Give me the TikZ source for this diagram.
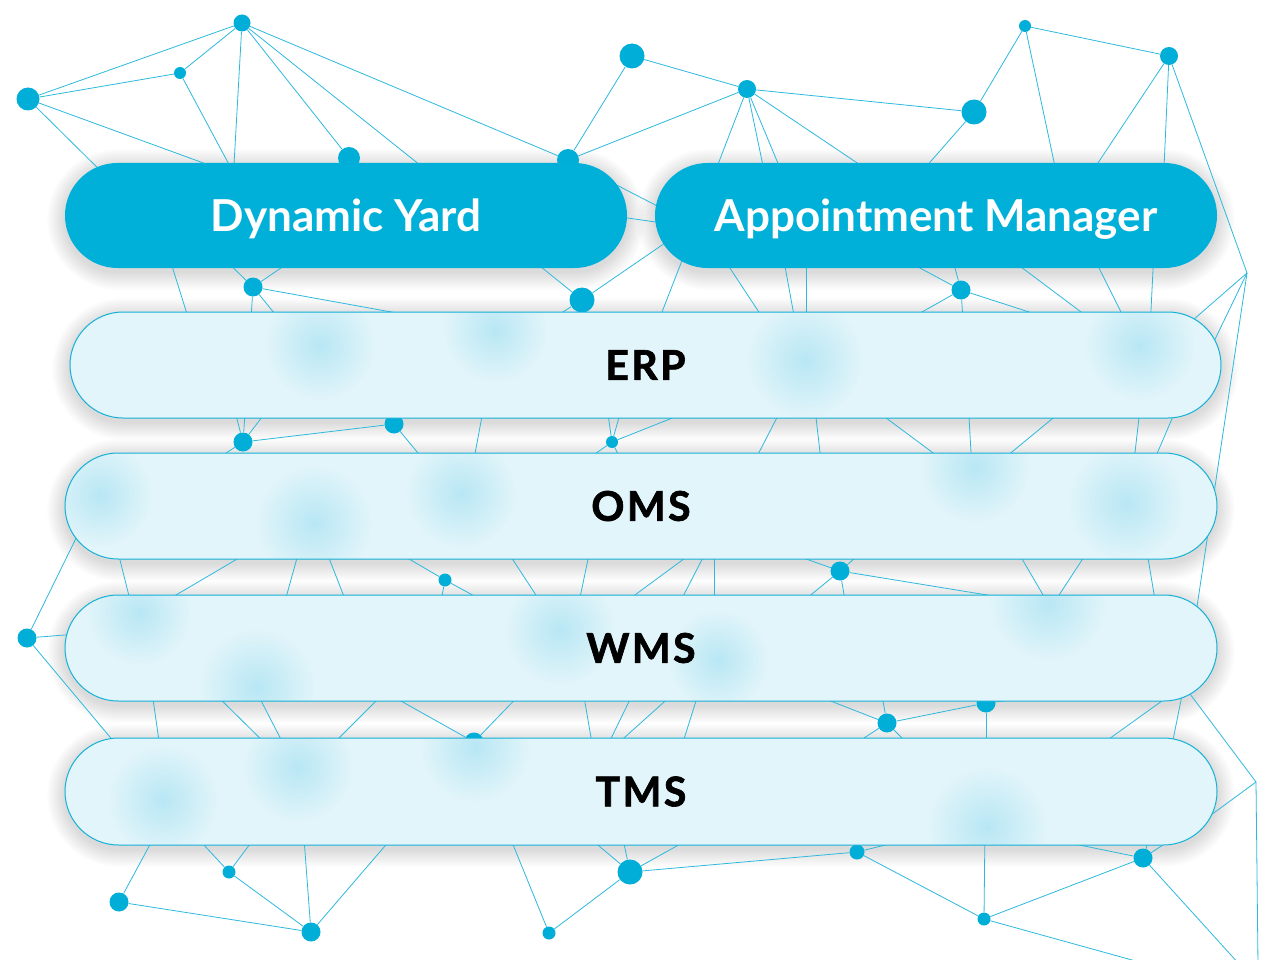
\documentclass[tikz,border=0pt]{standalone}
\usepackage{fontspec}
\setmainfont{Lato}
\usetikzlibrary{shapes.misc,fadings}
\definecolor{netblue}{RGB}{0,174,216}
\definecolor{netline}{RGB}{45,185,222}
\definecolor{pillblue}{RGB}{0,176,216}
\definecolor{glass}{RGB}{226,245,250}
\definecolor{glassedge}{RGB}{20,176,214}
\definecolor{spotcol}{RGB}{150,220,240}
\tikzfading[name=spotfade, inner color=transparent!0, outer color=transparent!100]
\newcommand\mypillshadow[5]{%
  \foreach \i in {1,...,18} {%
    \fill[black, fill opacity=0.0065, rounded corners={#5pt+\i pt}]
      ({#1-\i},{#2-\i+4}) rectangle ({#3+\i},{#4+\i+4});
  }%
}
\begin{document}
\begin{tikzpicture}[x=1pt,y=-1pt,
  net/.style={draw=netline, line width=0.8pt},
  dot/.style={circle, fill=netblue, inner sep=0pt, draw=none},
  darkpill/.style={rounded rectangle, fill=pillblue, text=white, minimum width=562pt, minimum height=105pt, inner sep=0pt, text depth=0pt, font=\fontsize{44}{50}\selectfont\bfseries},
  glassfill/.style={fill=glass, rounded corners=52.5pt},
  glasspill/.style={rounded rectangle, draw=glassedge, line width=1pt, minimum height=106pt, inner sep=0pt, text=black, font=\fontsize{41}{48}\selectfont\bfseries\addfontfeatures{LetterSpace=6,FakeBold=1.6}},
  spot/.style={fill=spotcol, path fading=spotfade, fill opacity=0.55}
]
\useasboundingbox (0,0) rectangle (1280,960);
\fill[white] (0,0) rectangle (1280,960);
\clip (0,0) rectangle (1280,960);
% ---------- soft shadows of all bars ----------
\mypillshadow{65}{163}{627}{268}{52.5}
\mypillshadow{655}{163}{1217}{268}{52.5}
\mypillshadow{70}{312}{1221}{418}{53}
\mypillshadow{65}{453}{1217}{559}{53}
\mypillshadow{65}{595}{1217}{701}{53}
\mypillshadow{65}{738}{1217}{845}{53.5}
% ---------- network dots ----------
\node[dot,minimum size=17pt] (dA) at (242,23) {};
\node[dot,minimum size=12pt] (dB) at (180,73) {};
\node[dot,minimum size=23pt] (dC) at (28,99) {};
\node[dot,minimum size=22pt] (dD) at (349,158) {};
\node[dot,minimum size=22pt] (dE) at (568,160) {};
\node[dot,minimum size=25pt] (dF) at (632,56) {};
\node[dot,minimum size=18pt] (dG) at (747,89) {};
\node[dot,minimum size=25pt] (dH) at (974,112) {};
\node[dot,minimum size=12pt] (dI) at (1025,26) {};
\node[dot,minimum size=18pt] (dJ) at (1169,56) {};
\coordinate (K) at (1247,273);
\node[dot,minimum size=19pt] (dL) at (253,287) {};
\node[dot,minimum size=25pt] (dM) at (582,300) {};
\node[dot,minimum size=19pt] (dN) at (961,290) {};
\node[dot,minimum size=19pt] (dO) at (243,442) {};
\node[dot,minimum size=19pt] (dP) at (394,424) {};
\node[dot,minimum size=12pt] (dQ) at (612,442) {};
\node[dot,minimum size=13pt] (dR) at (445,580) {};
\node[dot,minimum size=19pt] (dS) at (840,571) {};
\node[dot,minimum size=19pt] (dT) at (27,638) {};
\node[dot,minimum size=19pt] (dU) at (474,742) {};
\node[dot,minimum size=19pt] (dV) at (887,723) {};
\node[dot,minimum size=19pt] (dW) at (986,703) {};
\node[dot,minimum size=19pt] (dX) at (119,902) {};
\node[dot,minimum size=13pt] (dY) at (229,872) {};
\node[dot,minimum size=19pt] (dZ) at (311,932) {};
\node[dot,minimum size=13pt] (d1) at (549,933) {};
\node[dot,minimum size=25pt] (d2) at (630,872) {};
\node[dot,minimum size=15pt] (d3) at (857,852) {};
\node[dot,minimum size=13pt] (d4) at (984,919) {};
\node[dot,minimum size=19pt] (d5) at (1143,858) {};
\coordinate (K2) at (1256,782);
% ---------- hidden ends (under the bars) ----------
\coordinate (h01) at (120,190); \coordinate (h02) at (250,180);
\coordinate (h03) at (240,185); \coordinate (h04) at (232,200);
\coordinate (h05) at (440,181); \coordinate (h06) at (710,185);
\coordinate (h07) at (767,185); \coordinate (h08) at (787,185);
\coordinate (h09) at (890,185); \coordinate (h10) at (910,185);
\coordinate (h11) at (1060,190); \coordinate (h12) at (1080,190);
\coordinate (h13) at (1163,190); \coordinate (h14) at (700,228);
\coordinate (h15) at (600,214); \coordinate (h16) at (690,227);
\coordinate (h17) at (700,219);
\coordinate (h18) at (167,250); \coordinate (h19) at (192,330);
\coordinate (h20) at (220,255); \coordinate (h21) at (300,255);
\coordinate (h22) at (250,335); \coordinate (h23) at (292,335);
\coordinate (h24) at (430,319); \coordinate (h25) at (530,258);
\coordinate (h26) at (550,320);
\coordinate (h27) at (690,240); \coordinate (h28) at (655,330);
\coordinate (h29) at (718,250); \coordinate (h30) at (772,332);
\coordinate (h31) at (782,250); \coordinate (h32) at (797,332);
\coordinate (h33) at (806,250); \coordinate (h34) at (806,332);
\coordinate (h35) at (890,252); \coordinate (h36) at (950,250);
\coordinate (h37) at (890,330); \coordinate (h38) at (964,335);
\coordinate (h39) at (1060,322);
\coordinate (h40) at (1005,255); \coordinate (h41) at (1105,330);
\coordinate (h42) at (1090,250); \coordinate (h43) at (1130,330);
\coordinate (h44) at (1154,250); \coordinate (h45) at (1150,330);
\coordinate (h46) at (1170,340); \coordinate (h47) at (1205,360);
\coordinate (h48) at (1192,640);
\coordinate (h49) at (232,400); \coordinate (h50) at (246,400);
\coordinate (h51) at (275,400); \coordinate (h52) at (200,470);
\coordinate (h53) at (432,470);
\coordinate (h54) at (485,400); \coordinate (h55) at (472,470);
\coordinate (h56) at (606,400); \coordinate (h57) at (624,400);
\coordinate (h58) at (700,407); \coordinate (h59) at (572,470);
\coordinate (h60) at (626,470);
\coordinate (h61) at (786,400); \coordinate (h62) at (750,470);
\coordinate (h63) at (814,400); \coordinate (h64) at (822,470);
\coordinate (h65) at (862,400); \coordinate (h66) at (956,470);
\coordinate (h67) at (968,400); \coordinate (h68) at (972,470);
\coordinate (h69) at (1075,400); \coordinate (h70) at (990,470);
\coordinate (h71) at (1141,400); \coordinate (h72) at (1133,470);
\coordinate (h73) at (1180,400); \coordinate (h74) at (1150,470);
\coordinate (h75) at (85,520); \coordinate (h76) at (90,633);
\coordinate (h77) at (125,755);
\coordinate (h78) at (115,540); \coordinate (h79) at (133,612);
\coordinate (h80) at (261,545); \coordinate (h81) at (159,605);
\coordinate (h82) at (302,540); \coordinate (h83) at (282,612);
\coordinate (h84) at (322,540); \coordinate (h85) at (350,612);
\coordinate (h86) at (385,545); \coordinate (h87) at (500,610);
\coordinate (h88) at (439,612);
\coordinate (h89) at (500,540); \coordinate (h90) at (547,612);
\coordinate (h91) at (592,540); \coordinate (h92) at (577,612);
\coordinate (h93) at (700,547); \coordinate (h94) at (620,606);
\coordinate (h95) at (712,540); \coordinate (h96) at (675,612);
\coordinate (h97) at (714,540); \coordinate (h98) at (714,612);
\coordinate (h99) at (775,548); \coordinate (hA0) at (870,545);
\coordinate (hA1) at (790,612); \coordinate (hA2) at (847,612);
\coordinate (hA3) at (1030,602);
\coordinate (hA4) at (1011,540); \coordinate (hA5) at (1053,612);
\coordinate (hA6) at (1095,540); \coordinate (hA7) at (1048,612);
\coordinate (hA8) at (1145,540); \coordinate (hA9) at (1157,612);
\coordinate (hB0) at (151,685); \coordinate (hB1) at (161,755);
\coordinate (hB2) at (206,685); \coordinate (hB3) at (277,755);
\coordinate (hB4) at (253,685); \coordinate (hB5) at (289,755);
\coordinate (hB6) at (392,685); \coordinate (hB7) at (322,755);
\coordinate (hB8) at (376,687); \coordinate (hB9) at (527,687);
\coordinate (hC0) at (582,685); \coordinate (hC1) at (594,755);
\coordinate (hC2) at (637,685); \coordinate (hC3) at (603,755);
\coordinate (hC4) at (683,685); \coordinate (hC5) at (605,755);
\coordinate (hC6) at (701,685); \coordinate (hC7) at (679,755);
\coordinate (hC8) at (805,691); \coordinate (hC9) at (880,685);
\coordinate (hD0) at (838,755); \coordinate (hD1) at (919,755);
\coordinate (hD2) at (1080,692); \coordinate (hD3) at (986,755);
\coordinate (hD4) at (1180,688); \coordinate (hD5) at (1095,749);
\coordinate (hD6) at (1184,685); \coordinate (hD7) at (1170,755);
\coordinate (hD8) at (1175,674); \coordinate (hD9) at (1200,823);
\coordinate (hE0) at (1258,965);
\coordinate (hE1) at (160,826); \coordinate (hE2) at (190,830);
\coordinate (hE3) at (262,828); \coordinate (hE4) at (303,825);
\coordinate (hE5) at (403,825); \coordinate (hE6) at (505,825);
\coordinate (hE7) at (580,830); \coordinate (hE8) at (620,825);
\coordinate (hE9) at (700,833); \coordinate (hF0) at (930,834);
\coordinate (hF1) at (985,825); \coordinate (hF2) at (1150,965);
\coordinate (hF3) at (1050,839); \coordinate (hF4) at (1152,830);
\coordinate (hF5) at (1175,837); \coordinate (hF6) at (1240,965);
% ---------- network lines ----------
\draw[net] (dA) -- (dC); \draw[net] (dA) -- (dB); \draw[net] (dB) -- (dC);
\draw[net] (dC) -- (h01); \draw[net] (dC) -- (h02); \draw[net] (dB) -- (h03);
\draw[net] (dA) -- (h04); \draw[net] (dA) -- (dD); \draw[net] (dA) -- (h05);
\draw[net] (dA) -- (dE); \draw[net] (dE) -- (dF); \draw[net] (dE) -- (dG);
\draw[net] (dF) -- (dG); \draw[net] (dG) -- (dH);
\draw[net] (dG) -- (h06); \draw[net] (dG) -- (h07); \draw[net] (dG) -- (h08);
\draw[net] (dG) -- (h09); \draw[net] (dH) -- (h10); \draw[net] (dH) -- (dI);
\draw[net] (dI) -- (dJ); \draw[net] (dI) -- (h11); \draw[net] (dJ) -- (h12);
\draw[net] (dJ) -- (h13); \draw[net] (dJ) -- (K);
\draw[net] (dE) -- (h14); \draw[net] (h15) -- (h16); \draw[net] (dM) -- (h17);
\draw[net] (h18) -- (h19);
\draw[net] (dL) -- (h20); \draw[net] (dL) -- (h21); \draw[net] (dL) -- (h22);
\draw[net] (dL) -- (h23); \draw[net] (dL) -- (h24);
\draw[net] (dM) -- (h25); \draw[net] (dM) -- (h26);
\draw[net] (h27) -- (h28); \draw[net] (h29) -- (h30); \draw[net] (h31) -- (h32);
\draw[net] (h33) -- (h34);
\draw[net] (dN) -- (h35); \draw[net] (dN) -- (h36); \draw[net] (dN) -- (h37);
\draw[net] (dN) -- (h38); \draw[net] (dN) -- (h39);
\draw[net] (h40) -- (h41); \draw[net] (h42) -- (h43); \draw[net] (h44) -- (h45);
\draw[net] (K) -- (h46); \draw[net] (K) -- (h47); \draw[net] (K) -- (h48);
\draw[net] (dO) -- (h49); \draw[net] (dO) -- (h50); \draw[net] (dO) -- (h51);
\draw[net] (dO) -- (h52); \draw[net] (dO) -- (dP); \draw[net] (dP) -- (h53);
\draw[net] (h54) -- (h55);
\draw[net] (dQ) -- (h56); \draw[net] (dQ) -- (h57); \draw[net] (dQ) -- (h58);
\draw[net] (dQ) -- (h59); \draw[net] (dQ) -- (h60);
\draw[net] (h61) -- (h62); \draw[net] (h63) -- (h64); \draw[net] (h65) -- (h66);
\draw[net] (h67) -- (h68); \draw[net] (h69) -- (h70); \draw[net] (h71) -- (h72);
\draw[net] (h73) -- (h74);
\draw[net] (dT) -- (h75); \draw[net] (dT) -- (h76); \draw[net] (dT) -- (h77);
\draw[net] (h78) -- (h79); \draw[net] (h80) -- (h81); \draw[net] (h82) -- (h83);
\draw[net] (h84) -- (h85);
\draw[net] (dR) -- (h86); \draw[net] (dR) -- (h87); \draw[net] (dR) -- (h88);
\draw[net] (h89) -- (h90); \draw[net] (h91) -- (h92); \draw[net] (h93) -- (h94);
\draw[net] (h95) -- (h96); \draw[net] (h97) -- (h98);
\draw[net] (dS) -- (h99); \draw[net] (dS) -- (hA0); \draw[net] (dS) -- (hA1);
\draw[net] (dS) -- (hA2); \draw[net] (dS) -- (hA3);
\draw[net] (hA4) -- (hA5); \draw[net] (hA6) -- (hA7); \draw[net] (hA8) -- (hA9);
\draw[net] (hB0) -- (hB1); \draw[net] (hB2) -- (hB3); \draw[net] (hB4) -- (hB5);
\draw[net] (hB6) -- (hB7);
\draw[net] (dU) -- (hB8); \draw[net] (dU) -- (hB9);
\draw[net] (hC0) -- (hC1); \draw[net] (hC2) -- (hC3); \draw[net] (hC4) -- (hC5);
\draw[net] (hC6) -- (hC7);
\draw[net] (dV) -- (hC8); \draw[net] (dV) -- (hC9); \draw[net] (dV) -- (hD0);
\draw[net] (dV) -- (hD1); \draw[net] (dV) -- (dW);
\draw[net] (dW) -- (hD2); \draw[net] (dW) -- (hD3);
\draw[net] (hD4) -- (hD5); \draw[net] (hD6) -- (hD7);
\draw[net] (hD8) -- (K2); \draw[net] (K2) -- (hD9); \draw[net] (K2) -- (hE0);
\draw[net] (hE1) -- (dX); \draw[net] (hE2) -- (dY); \draw[net] (hE3) -- (dY);
\draw[net] (dY) -- (dZ); \draw[net] (dX) -- (dZ);
\draw[net] (hE4) -- (dZ); \draw[net] (hE5) -- (dZ);
\draw[net] (hE6) -- (d1); \draw[net] (d1) -- (d2);
\draw[net] (hE7) -- (d2); \draw[net] (hE8) -- (d2); \draw[net] (hE9) -- (d2);
\draw[net] (d2) -- (d3); \draw[net] (hF0) -- (d3); \draw[net] (d3) -- (d4);
\draw[net] (hF1) -- (d4); \draw[net] (d4) -- (d5); \draw[net] (d4) -- (hF2);
\draw[net] (hF3) -- (d5); \draw[net] (hF4) -- (d5); \draw[net] (hF5) -- (d5);
\draw[net] (d5) -- (hF6);
% ---------- dark pills ----------
\node[darkpill] (dy) at (346,215.5) {Dynamic Yard};
\node[darkpill] (am) at (936,215.5) {Appointment Manager};
% ---------- glass pills ----------
% ERP
\path[glassfill] (70,312) rectangle (1221,418);
\begin{scope}
\clip[rounded corners=52.5pt] (70,312) rectangle (1221,418);
\fill[spot] (320,345) circle (55pt); \fill[spot] (495,330) circle (52pt);
\fill[spot] (805,360) circle (58pt); \fill[spot] (1140,345) circle (55pt);
\end{scope}
\node[glasspill, minimum width=1151pt] (erp) at (645.5,365) {ERP};
% OMS
\path[glassfill] (65,453) rectangle (1217,559);
\begin{scope}
\clip[rounded corners=52.5pt] (65,453) rectangle (1217,559);
\fill[spot] (100,495) circle (52pt); \fill[spot] (314,523) circle (58pt);
\fill[spot] (461,493) circle (55pt); \fill[spot] (975,467) circle (55pt);
\fill[spot] (1126,503) circle (58pt);
\end{scope}
\node[glasspill, minimum width=1152pt] (oms) at (641,506) {OMS};
% WMS
\path[glassfill] (65,595) rectangle (1217,701);
\begin{scope}
\clip[rounded corners=52.5pt] (65,595) rectangle (1217,701);
\fill[spot] (139,613) circle (52pt); \fill[spot] (257,687) circle (58pt);
\fill[spot] (560,630) circle (55pt); \fill[spot] (1048,603) circle (58pt);
\fill[spot] (718,660) circle (50pt);
\end{scope}
\node[glasspill, minimum width=1152pt] (wms) at (641,648) {WMS};
% TMS
\path[glassfill] (65,738) rectangle (1217,845);
\begin{scope}
\clip[rounded corners=53pt] (65,738) rectangle (1217,845);
\fill[spot] (163,800) circle (55pt); \fill[spot] (298,767) circle (55pt);
\fill[spot] (475,747) circle (55pt); \fill[spot] (987,827) circle (60pt);
\end{scope}
\node[glasspill, minimum width=1152pt, minimum height=107pt] (tms) at (641,791.5) {TMS};
\end{tikzpicture}
\end{document}
